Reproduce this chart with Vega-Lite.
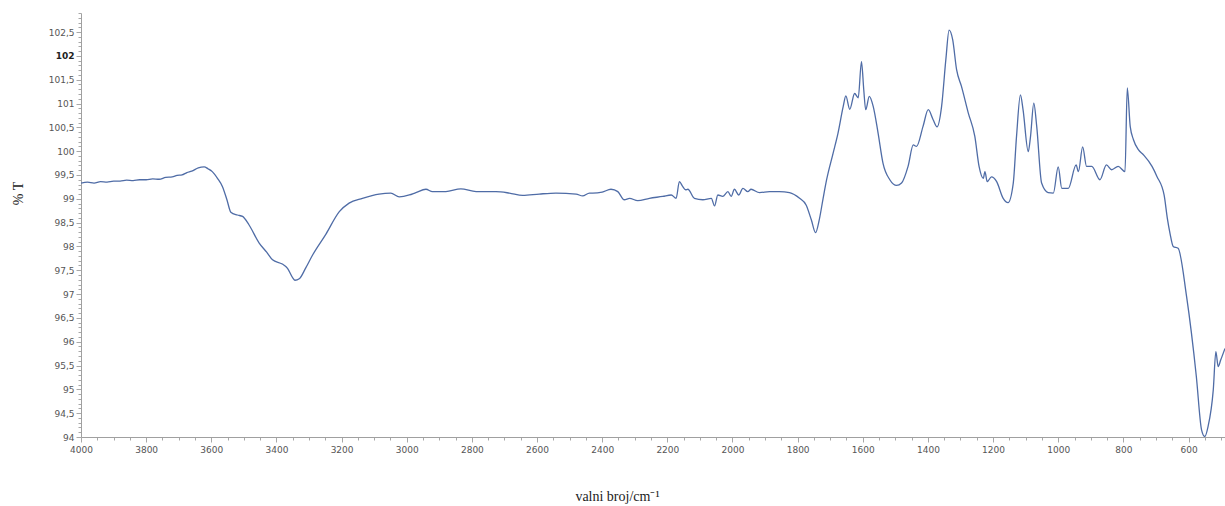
{
  "$schema": "https://vega.github.io/schema/vega-lite/v6.json",
  "autosize": "none",
  "width": 1144,
  "height": 424,
  "padding": {"left": 81, "top": 13, "right": 0, "bottom": 69},
  "background": "white",
  "config": {"view": {"stroke": null}},
  "data": {"values": [
    {"wn": 4000, "t": 99.33}, {"wn": 3980, "t": 99.35}, {"wn": 3960, "t": 99.33}, {"wn": 3940, "t": 99.36},
    {"wn": 3920, "t": 99.35}, {"wn": 3900, "t": 99.37}, {"wn": 3880, "t": 99.37}, {"wn": 3860, "t": 99.39},
    {"wn": 3840, "t": 99.38}, {"wn": 3820, "t": 99.40}, {"wn": 3800, "t": 99.40}, {"wn": 3780, "t": 99.42},
    {"wn": 3760, "t": 99.41}, {"wn": 3740, "t": 99.45}, {"wn": 3720, "t": 99.46}, {"wn": 3705, "t": 99.49},
    {"wn": 3690, "t": 99.50}, {"wn": 3675, "t": 99.55}, {"wn": 3660, "t": 99.58}, {"wn": 3640, "t": 99.65},
    {"wn": 3622, "t": 99.67}, {"wn": 3610, "t": 99.63},
    {"wn": 3597, "t": 99.57}, {"wn": 3580, "t": 99.42}, {"wn": 3566, "t": 99.26}, {"wn": 3552, "t": 98.98},
    {"wn": 3540, "t": 98.72},
    {"wn": 3520, "t": 98.66}, {"wn": 3504, "t": 98.63}, {"wn": 3484, "t": 98.45}, {"wn": 3453, "t": 98.07},
    {"wn": 3430, "t": 97.88}, {"wn": 3412, "t": 97.72}, {"wn": 3382, "t": 97.63}, {"wn": 3366, "t": 97.54},
    {"wn": 3350, "t": 97.34}, {"wn": 3343, "t": 97.29}, {"wn": 3330, "t": 97.32}, {"wn": 3310, "t": 97.55},
    {"wn": 3289, "t": 97.82}, {"wn": 3248, "t": 98.26},
    {"wn": 3207, "t": 98.73}, {"wn": 3177, "t": 98.91}, {"wn": 3136, "t": 99.01}, {"wn": 3085, "t": 99.10},
    {"wn": 3049, "t": 99.12}, {"wn": 3023, "t": 99.04}, {"wn": 2992, "t": 99.08}, {"wn": 2972, "t": 99.13},
    {"wn": 2941, "t": 99.20}, {"wn": 2921, "t": 99.15}, {"wn": 2880, "t": 99.15}, {"wn": 2834, "t": 99.21},
    {"wn": 2787, "t": 99.15}, {"wn": 2726, "t": 99.15}, {"wn": 2685, "t": 99.12}, {"wn": 2644, "t": 99.07},
    {"wn": 2593, "t": 99.10}, {"wn": 2542, "t": 99.12}, {"wn": 2480, "t": 99.10}, {"wn": 2460, "t": 99.06},
    {"wn": 2439, "t": 99.12}, {"wn": 2429, "t": 99.12}, {"wn": 2400, "t": 99.14}, {"wn": 2373, "t": 99.20},
    {"wn": 2352, "t": 99.15}, {"wn": 2332, "t": 98.98}, {"wn": 2316, "t": 99.01}, {"wn": 2291, "t": 98.96},
    {"wn": 2255, "t": 99.01}, {"wn": 2214, "t": 99.05}, {"wn": 2188, "t": 99.08}, {"wn": 2173, "t": 99.01},
    {"wn": 2163, "t": 99.36}, {"wn": 2153, "t": 99.26}, {"wn": 2144, "t": 99.19}, {"wn": 2137, "t": 99.20},
    {"wn": 2117, "t": 99.01}, {"wn": 2091, "t": 98.98}, {"wn": 2065, "t": 99.01}, {"wn": 2055, "t": 98.85},
    {"wn": 2045, "t": 99.08}, {"wn": 2030, "t": 99.05}, {"wn": 2014, "t": 99.15}, {"wn": 2004, "t": 99.05},
    {"wn": 1994, "t": 99.20}, {"wn": 1981, "t": 99.08}, {"wn": 1968, "t": 99.22}, {"wn": 1953, "t": 99.15},
    {"wn": 1943, "t": 99.20}, {"wn": 1917, "t": 99.13}, {"wn": 1886, "t": 99.15}, {"wn": 1856, "t": 99.15},
    {"wn": 1825, "t": 99.13}, {"wn": 1794, "t": 99.01}, {"wn": 1774, "t": 98.87}, {"wn": 1758, "t": 98.56},
    {"wn": 1745, "t": 98.29}, {"wn": 1733, "t": 98.58}, {"wn": 1722, "t": 99.00}, {"wn": 1711, "t": 99.40},
    {"wn": 1691, "t": 99.96}, {"wn": 1676, "t": 100.38}, {"wn": 1660, "t": 100.94}, {"wn": 1652, "t": 101.16},
    {"wn": 1640, "t": 100.88}, {"wn": 1625, "t": 101.21}, {"wn": 1614, "t": 101.12}, {"wn": 1604, "t": 101.88},
    {"wn": 1597, "t": 101.29}, {"wn": 1591, "t": 100.87}, {"wn": 1580, "t": 101.15}, {"wn": 1568, "t": 100.94},
    {"wn": 1553, "t": 100.38}, {"wn": 1538, "t": 99.75}, {"wn": 1517, "t": 99.40}, {"wn": 1496, "t": 99.28},
    {"wn": 1481, "t": 99.33}, {"wn": 1461, "t": 99.68}, {"wn": 1445, "t": 100.13}, {"wn": 1435, "t": 100.10},
    {"wn": 1415, "t": 100.52}, {"wn": 1399, "t": 100.87}, {"wn": 1384, "t": 100.66}, {"wn": 1372, "t": 100.51},
    {"wn": 1358, "t": 100.94}, {"wn": 1345, "t": 101.92}, {"wn": 1335, "t": 102.54}, {"wn": 1324, "t": 102.34},
    {"wn": 1312, "t": 101.71}, {"wn": 1297, "t": 101.36}, {"wn": 1276, "t": 100.80}, {"wn": 1256, "t": 100.31},
    {"wn": 1243, "t": 99.68}, {"wn": 1230, "t": 99.43}, {"wn": 1225, "t": 99.57}, {"wn": 1218, "t": 99.36},
    {"wn": 1205, "t": 99.46}, {"wn": 1189, "t": 99.36}, {"wn": 1169, "t": 99.01}, {"wn": 1154, "t": 98.92},
    {"wn": 1138, "t": 99.33}, {"wn": 1128, "t": 100.31}, {"wn": 1116, "t": 101.18}, {"wn": 1108, "t": 100.87},
    {"wn": 1092, "t": 99.99}, {"wn": 1085, "t": 100.31}, {"wn": 1075, "t": 101.01}, {"wn": 1066, "t": 100.52},
    {"wn": 1051, "t": 99.33}, {"wn": 1031, "t": 99.13}, {"wn": 1015, "t": 99.12}, {"wn": 1000, "t": 99.67},
    {"wn": 989, "t": 99.22}, {"wn": 969, "t": 99.22}, {"wn": 945, "t": 99.71}, {"wn": 938, "t": 99.57},
    {"wn": 925, "t": 100.09}, {"wn": 913, "t": 99.68}, {"wn": 897, "t": 99.68}, {"wn": 872, "t": 99.40},
    {"wn": 852, "t": 99.71}, {"wn": 836, "t": 99.61}, {"wn": 816, "t": 99.68}, {"wn": 795, "t": 99.57},
    {"wn": 788, "t": 101.33}, {"wn": 779, "t": 100.52}, {"wn": 769, "t": 100.24}, {"wn": 754, "t": 100.03},
    {"wn": 738, "t": 99.92}, {"wn": 712, "t": 99.68}, {"wn": 697, "t": 99.47}, {"wn": 675, "t": 99.08},
    {"wn": 665, "t": 98.59}, {"wn": 657, "t": 98.28}, {"wn": 647, "t": 98.00}, {"wn": 632, "t": 97.96},
    {"wn": 606, "t": 96.95}, {"wn": 576, "t": 95.27}, {"wn": 560, "t": 94.15}, {"wn": 550, "t": 94.01},
    {"wn": 540, "t": 94.22}, {"wn": 524, "t": 94.99}, {"wn": 516, "t": 95.79}, {"wn": 509, "t": 95.48},
    {"wn": 501, "t": 95.62}, {"wn": 488, "t": 95.86}
  ]},
  "mark": {"type": "line", "color": "#4f6ca6", "strokeWidth": 1.3, "clip": true, "interpolate": "monotone"},
  "encoding": {
    "x": {
      "field": "wn", "type": "quantitative", "sort": null,
      "scale": {"domain": [4000, 488], "nice": false, "zero": false},
      "axis": {
        "values": [4000,3950,3900,3850,3800,3750,3700,3650,3600,3550,3500,3450,3400,3350,3300,3250,3200,3150,3100,3050,3000,2950,2900,2850,2800,2750,2700,2650,2600,2550,2500,2450,2400,2350,2300,2250,2200,2150,2100,2050,2000,1950,1900,1850,1800,1750,1700,1650,1600,1550,1500,1450,1400,1350,1300,1250,1200,1150,1100,1050,1000,950,900,850,800,750,700,650,600,550,500],
        "labelExpr": "datum.value % 200 == 0 ? toString(datum.value) : ''",
        "tickSize": {"condition": {"test": "datum.value % 200 == 0", "value": 5}, "value": 3},
        "labelPadding": 3,
        "labelFont": "DejaVu Sans", "labelFontSize": 9, "labelColor": "#555555",
        "labelOverlap": false, "labelFlush": false,
        "domainColor": "#a0a0a0", "tickColor": "#a8a8a8", "grid": false,
        "title": "valni broj/cm⁻¹",
        "titleFont": "Liberation Serif", "titleFontSize": 14, "titleFontWeight": "normal", "titleColor": "#222222",
        "titleX": 536, "titleY": 63, "titleBaseline": "alphabetic", "titleAnchor": "middle", "titleAlign": "center"
      }
    },
    "y": {
      "field": "t", "type": "quantitative",
      "scale": {"domain": [94, 102.9], "nice": false, "zero": false},
      "axis": {
        "values": [94,94.1,94.2,94.3,94.4,94.5,94.6,94.7,94.8,94.9,95,95.1,95.2,95.3,95.4,95.5,95.6,95.7,95.8,95.9,96,96.1,96.2,96.3,96.4,96.5,96.6,96.7,96.8,96.9,97,97.1,97.2,97.3,97.4,97.5,97.6,97.7,97.8,97.9,98,98.1,98.2,98.3,98.4,98.5,98.6,98.7,98.8,98.9,99,99.1,99.2,99.3,99.4,99.5,99.6,99.7,99.8,99.9,100,100.1,100.2,100.3,100.4,100.5,100.6,100.7,100.8,100.9,101,101.1,101.2,101.3,101.4,101.5,101.6,101.7,101.8,101.9,102,102.1,102.2,102.3,102.4,102.5,102.6,102.7,102.8,102.9],
        "labelExpr": "abs(datum.value * 2 - round(datum.value * 2)) < 0.001 ? replace(toString(round(datum.value * 10) / 10), '.', ',') : ''",
        "tickSize": {"condition": {"test": "abs(datum.value * 2 - round(datum.value * 2)) < 0.001", "value": 5}, "value": 3},
        "labelPadding": 2,
        "labelFont": "DejaVu Sans", "labelFontSize": 9,
        "labelColor": {"condition": {"test": "datum.value == 102", "value": "#222222"}, "value": "#555555"},
        "labelFontWeight": {"condition": {"test": "datum.value == 102", "value": "bold"}, "value": "normal"},
        "labelOverlap": false, "labelFlush": false,
        "domainColor": "#a0a0a0", "tickColor": "#a8a8a8", "grid": false,
        "title": "% T",
        "titleFont": "Liberation Serif", "titleFontSize": 14, "titleFontWeight": "normal", "titleColor": "#222222",
        "titleX": -63, "titleY": 180, "titleAngle": -90, "titleBaseline": "middle", "titleAlign": "center"
      }
    }
  }
}
